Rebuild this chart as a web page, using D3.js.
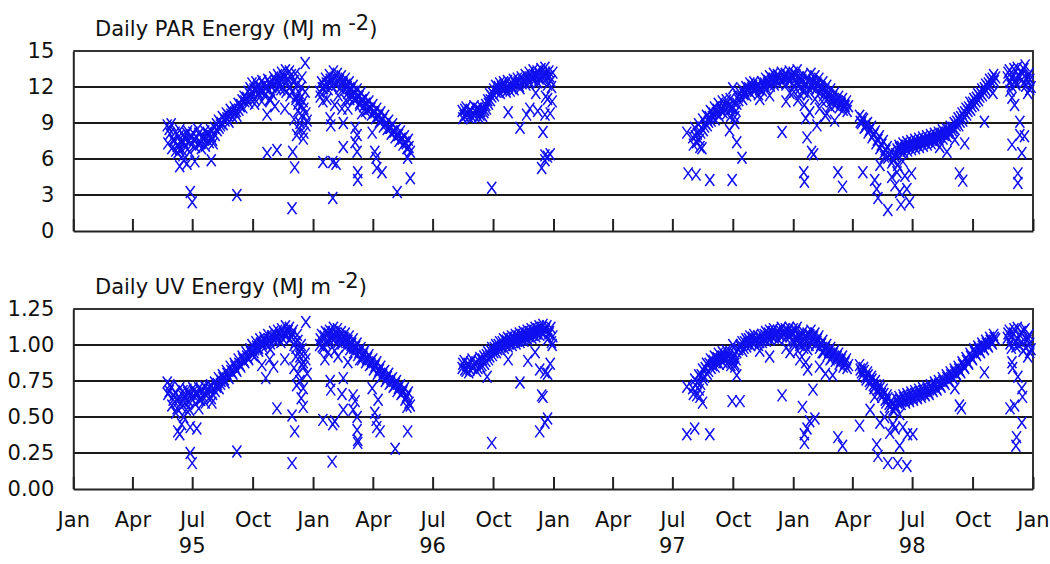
<!DOCTYPE html>
<html>
<head>
<meta charset="utf-8">
<script src="https://cdn.jsdelivr.net/npm/d3@7"></script>
<style>
  html, body { margin: 0; padding: 0; background: #fff; }
  svg { display: block; }
  text { font-family: "DejaVu Sans", "Noto Sans", sans-serif; fill: #111; }
</style>
</head>
<body>
<svg id="chart" width="1050" height="564"></svg>
<script>
// Record start: day numbers below count from 1 Jan 1995.
const recordStart = new Date(1995, 0, 1);
const recordEnd = new Date(1999, 0, 1);

// Quarterly tick dates and year labels
const quarterTicks = d3.timeMonth.range(recordStart, d3.timeDay.offset(recordEnd, 1), 3);
const yearLabels = [["95", new Date(1995, 6, 1)], ["96", new Date(1996, 6, 1)],
                    ["97", new Date(1997, 6, 1)], ["98", new Date(1998, 6, 1)]];
const parTicks = [0, 3, 6, 9, 12, 15];
const uvTicks = [0, 0.25, 0.5, 0.75, 1.0, 1.25];

// Sampling interval (days) of the continuous runs below
const runStep = 3;

// ---- Daily PAR energy (MJ m-2): continuous runs [start day, values...] ----
const parRun95 = [143, [8.8,8.5,8.9,7.6,8.2,7.1,7.9,7.4,8.0,7.7,8.1,7.5,7.9,8.2,7.6,7.8,8.1,7.3,7.9,8.3,
  7.7,8.0,8.4,7.6,8.6,8.9,9.2,8.8,9.5,9.3,9.8,9.6,10.1,9.9,10.3,10.0,10.6,10.4,10.9,11.2,
  11.0,11.6,11.9,12.3,11.8,12.4,12.1,11.7,12.5,12.2,11.9,12.6,12.3,12.0,12.8,12.5,13.0,12.7,13.2,12.9,
  13.4,12.6,13.3,13.0,12.4,13.1,12.2,11.5,12.0,10.8,11.6,9.2]];
const parRun95Alt = [144, [7.3,8.1,6.9,7.5,6.7,7.2,8.4,6.8,7.4,7.0,8.3,6.6,7.2,7.6,7.0,8.5,7.3,6.9,7.7,7.1,
  8.2,7.4,7.9,7.3,8.0,8.4,8.6,9.0,8.9,9.2,9.4,9.1,9.7,9.5,9.9,9.6,10.1,10.5,10.3,10.8,
  11.1,10.7,11.3,11.5,11.0,11.8,11.5,12.0,11.6,11.3,12.1,11.7,12.2,11.4,12.3,11.9,12.5,12.1,12.6,11.8,
  12.4,12.7,12.0,11.6,12.5,11.2,10.6,11.0,9.6,10.2,8.8]];
const parRun96a = [375, [11.6,12.4,11.9,12.7,12.2,13.0,12.5,13.3,12.8,13.1,12.6,12.9,12.3,12.7,12.0,12.4,11.8,12.1,11.5,11.8,
  11.2,11.5,10.9,11.1,10.6,10.8,10.2,10.5,9.9,10.2,9.6,9.9,9.3,9.6,9.0,9.2,8.6,8.9,8.3,8.5,
  8.0,8.3,7.7,7.9,7.3,7.6,6.6]];
const parRun96aAlt = [376, [11.2,11.9,12.1,12.3,11.8,12.6,12.1,12.7,12.2,12.5,11.9,12.4,11.7,12.2,11.5,11.9,11.3,11.6,11.0,11.2,
  10.7,10.9,10.4,10.6,10.1,10.2,9.7,9.9,9.4,9.6,9.1,9.2,8.7,8.9,8.5,8.6,8.1,8.3,7.8,8.0,
  7.5,7.7,7.2,7.4,6.9,7.0]];
const parRun96b = [592, [10.0,9.6,10.3,9.8,10.1,9.5,10.4,9.9,10.2,9.7,10.3,9.9,10.5,10.9,11.4,11.2,11.8,12.1,11.7,12.3,
  12.0,12.4,11.9,12.5,12.2,12.0,12.6,12.3,12.7,12.1,12.8,12.5,13.0,12.6,13.2,12.8,13.4,12.9,13.3,12.7,
  13.5,13.0,13.6,12.8,13.3,12.5,13.2]];
const parRun96bAlt = [593, [9.4,10.1,9.7,9.5,10.0,9.8,9.6,10.2,9.5,10.0,9.6,10.1,10.2,10.6,10.9,11.5,11.3,11.6,12.0,11.5,
  11.8,12.2,11.6,12.0,11.7,12.3,11.8,12.2,12.4,11.9,12.3,12.6,12.2,12.8,12.4,12.9,12.5,13.0,12.4,13.1,
  12.6,12.9,13.2,12.2,12.9,12.0]];
const parRun97 = [943, [7.8,8.6,7.4,8.9,8.2,9.3,8.7,9.6,9.1,10.0,9.5,10.3,9.8,10.6,10.1,10.8,10.3,10.9,10.4,11.0,
  10.2,10.7,10.0,11.2,11.5,11.8,11.4,12.0,11.7,12.3,11.9,12.4,12.0,12.2,11.8,12.4,12.1,12.7,12.3,12.9,
  12.5,13.1,12.6,13.0,12.7,13.2,12.8,13.1,12.7,13.3,12.9,13.2,12.6,13.4,12.8,12.4,13.0,12.2,12.8,11.9,
  13.1,12.5,12.9,12.3,12.7,12.0,12.4,11.8,12.1,11.5,11.8,11.2,11.5,10.9,11.2,10.7,11.0,10.5,10.8,10.4]];
const parRun97Alt = [944, [7.2,7.9,8.1,7.6,8.6,8.4,9.0,8.8,9.5,9.2,9.8,9.3,10.1,9.6,10.2,9.9,10.5,9.8,10.4,9.6,
  10.3,9.5,10.6,10.9,11.2,11.0,11.6,11.3,11.9,11.5,12.1,11.7,11.9,11.4,12.0,11.7,12.3,11.9,12.5,12.1,
  12.7,12.2,12.6,12.3,12.8,12.4,12.7,12.2,12.9,12.5,12.8,12.1,13.0,12.4,11.9,12.6,11.6,12.3,11.4,12.5,
  12.0,12.4,11.8,12.2,11.5,11.9,11.3,11.6,11.0,11.3,10.8,11.0,10.5,10.8,10.3,10.6,10.1,10.4,10.0]];
const parRun98a = [1197, [9.6,9.0,9.3,8.7,9.0,8.4,8.7,8.0,8.3,7.6,7.9,7.2,7.5,6.8,7.0,6.4,6.6,5.9,6.2,6.8,
  7.1,6.6,7.3,6.9,7.4,7.0,7.5,7.1,7.6,7.2,7.7,7.3,7.8,7.4,7.9,7.5,8.0,7.6,8.1,7.7,
  8.2,7.9,8.4,8.0,8.5,8.2,8.7,8.4,9.0,8.8,9.4,9.1,9.8,9.5,10.2,10.0,10.7,10.4,11.0,10.8,
  11.4,11.2,11.8,11.6,12.2,12.0,12.6,12.4,13.0,12.8]];
const parRun98aAlt = [1198, [9.1,9.4,8.6,8.9,8.2,8.5,7.8,8.1,7.3,7.6,6.9,7.2,6.5,6.7,6.1,6.3,5.7,6.0,6.4,6.7,
  6.9,7.0,6.6,7.1,6.7,7.2,6.8,7.3,6.9,7.4,7.0,7.5,7.1,7.6,7.2,7.7,7.3,7.8,7.4,7.9,
  7.6,8.1,7.7,8.2,7.9,8.4,8.1,8.6,8.5,9.1,8.8,9.5,9.2,9.9,9.7,10.3,10.1,10.7,10.5,11.1,
  10.9,11.5,11.3,11.9,11.7,12.3,12.1,12.7,12.5]];
const parRun98b = [1422, [12.8,13.4,12.1,13.0,12.5,13.6,12.9,13.3,12.3,13.8,12.6,13.1,12.0]];
const parRun98bAlt = [1423, [13.2,12.4,12.7,13.5,12.2,13.0,12.8,12.6,13.5,12.1,12.9,12.6]];
// Scattered low (cloudy) days: [day, value]
const parLowDays = [
  [162,5.4],[168,5.9],[173,5.6],[185,5.8],[210,5.9],[178,3.25],[181,2.4],[249,3.0],[295,6.5],[310,6.75],
  [295,9.7],[333,1.9],[334,6.6],[337,5.3],[353,14.0],[348,12.8],[350,7.7],[351,8.2],[342,10.0],[345,9.0],
  [339,11.0],[347,10.5],[354,9.8],[343,8.5],[330,11.3],[324,11.6],[287,10.8],[299,11.0],[307,10.4],[159,6.5],
  [167,6.3],[162,6.8],[270,11.0],[276,10.6],[282,11.4],[300,10.9],[316,11.8],[322,10.2],[336,9.3],[340,8.0],
  [380,5.75],[395,5.75],[400,5.6],[395,2.75],[391,9.4],[392,8.8],[411,9.0],[409,10.2],[411,7.0],[429,8.6],
  [432,8.0],[429,7.4],[432,6.6],[433,4.9],[433,4.25],[455,8.2],[459,6.6],[461,6.1],[462,5.25],[470,4.9],
  [493,3.25],[513,4.4],[509,6.1],[380,10.8],[386,11.0],[403,11.3],[415,10.9],[421,11.0],[439,9.8],[445,10.0],
  [398,10.5],[418,10.2],[427,11.0],[436,10.5],
  [637,3.6],[662,9.9],[680,8.6],[690,9.7],[695,10.2],[707,10.0],[715,8.25],[718,9.7],[726,9.8],[713,5.25],
  [718,6.3],[722,6.2],[726,6.4],[704,11.5],[719,11.2],[729,10.8],[722,11.0],[718,5.9],
  [934,8.2],[936,4.8],[948,4.7],[969,4.25],[1003,4.25],[1018,6.1],[1010,7.4],[1079,8.25],[1112,4.9],[1113,4.1],
  [1124,6.6],[1127,6.4],[1117,7.8],[1164,4.9],[1171,3.7],[1132,8.8],[1159,9.2],[999,8.4],[1007,9.0],[1004,11.9],
  [954,7.0],[957,6.9],[1121,9.9],[1136,10.2],[1145,9.6],[1106,11.4],[1129,11.0],[1091,11.5],[1060,11.3],[1045,11.0],
  [1147,9.8],[1113,10.5],[1085,10.8],[1097,11.6],[1103,10.9],[1115,9.4],[1140,10.8],[1152,10.4],
  [1202,4.9],[1220,4.25],[1225,2.75],[1223,3.5],[1240,1.75],[1246,4.5],[1254,4.9],[1258,3.25],[1260,2.2],[1266,4.6],
  [1273,2.4],[1276,4.8],[1269,3.5],[1251,3.8],[1330,6.6],[1349,4.8],[1354,4.2],[1357,7.3],[1387,9.1],[1400,11.5],
  [1228,5.5],[1235,6.2],[1255,5.5],[1263,5.8],[1342,7.6],[1319,7.0],
  [1429,11.1],[1433,10.5],[1441,9.1],[1429,7.2],[1441,8.0],[1448,7.9],[1444,6.5],[1438,4.8],[1438,4.0],[1453,11.5],
  [1426,11.7],[1456,11.8]
];

// ---- Daily UV energy (MJ m-2) ----
const uvRun95 = [143, [0.74,0.68,0.71,0.62,0.67,0.56,0.64,0.60,0.68,0.63,0.69,0.61,0.66,0.70,0.64,0.67,0.70,0.62,0.68,0.71,
  0.65,0.69,0.72,0.66,0.74,0.71,0.77,0.73,0.79,0.76,0.82,0.78,0.85,0.81,0.87,0.83,0.90,0.86,0.92,0.89,
  0.95,0.91,0.97,1.00,0.95,1.02,0.98,1.04,1.01,1.05,1.02,1.07,1.03,1.06,1.09,1.05,1.10,1.07,1.11,1.08,
  1.13,1.09,1.12,1.06,1.10,1.02,1.07,0.96,1.00,0.88,0.94,0.80]];
const uvRun95Alt = [144, [0.66,0.72,0.58,0.65,0.53,0.61,0.70,0.57,0.64,0.60,0.67,0.55,0.63,0.68,0.59,0.66,0.62,0.69,0.64,0.60,
  0.67,0.71,0.63,0.70,0.68,0.73,0.70,0.75,0.77,0.74,0.80,0.77,0.82,0.80,0.85,0.82,0.87,0.85,0.90,0.88,
  0.92,0.90,0.95,0.93,0.97,0.99,0.96,1.01,0.99,1.03,1.00,1.04,1.01,1.06,1.03,1.07,1.04,1.08,1.05,1.09,
  1.06,1.10,1.04,1.08,1.00,0.98,1.03,0.92,0.97,0.85,0.90]];
const uvRun96a = [375, [1.00,1.07,0.98,1.09,1.03,1.10,1.05,1.12,1.06,1.11,1.05,1.09,1.03,1.08,1.02,1.06,1.00,1.04,0.98,1.01,
  0.95,0.98,0.92,0.96,0.90,0.93,0.87,0.90,0.85,0.88,0.82,0.85,0.79,0.82,0.77,0.80,0.74,0.77,0.72,0.75,
  0.70,0.72,0.67,0.70,0.64,0.67,0.58]];
const uvRun96aAlt = [376, [1.04,0.99,1.06,1.01,1.08,1.03,1.09,1.04,1.08,1.02,1.06,1.01,1.05,0.99,1.03,0.97,1.01,0.95,0.99,0.93,
  0.96,0.90,0.94,0.88,0.91,0.86,0.89,0.83,0.86,0.80,0.83,0.78,0.81,0.75,0.78,0.73,0.76,0.71,0.73,0.68,
  0.71,0.66,0.68,0.62,0.65,0.60]];
const uvRun96b = [592, [0.84,0.89,0.82,0.87,0.83,0.90,0.85,0.88,0.84,0.91,0.86,0.92,0.89,0.95,0.92,0.98,0.95,1.00,0.97,1.02,
  0.99,1.04,1.00,1.05,1.01,1.06,1.02,1.07,1.03,1.08,1.04,1.09,1.05,1.10,1.06,1.11,1.07,1.12,1.08,1.13,
  1.09,1.14,1.10,1.13,1.08,1.12,1.06]];
const uvRun96bAlt = [593, [0.87,0.83,0.86,0.81,0.88,0.84,0.87,0.82,0.89,0.85,0.90,0.87,0.93,0.90,0.96,0.93,0.98,0.95,1.00,0.97,
  1.02,0.98,1.03,0.99,1.04,1.00,1.05,1.01,1.06,1.02,1.07,1.03,1.08,1.04,1.09,1.05,1.10,1.06,1.11,1.07,
  1.12,1.08,1.11,1.04,1.09,1.02]];
const uvRun97 = [943, [0.70,0.76,0.65,0.79,0.73,0.83,0.78,0.87,0.82,0.90,0.86,0.92,0.88,0.94,0.90,0.95,0.91,0.96,0.92,0.95,
  0.89,0.94,0.90,0.97,0.99,1.02,0.98,1.04,1.01,1.06,1.02,1.07,1.03,1.06,1.02,1.07,1.04,1.09,1.05,1.10,
  1.06,1.11,1.07,1.10,1.07,1.12,1.08,1.11,1.07,1.12,1.08,1.11,1.06,1.12,1.07,1.03,1.09,1.01,1.08,1.00,
  1.10,1.05,1.08,1.02,1.06,1.00,1.03,0.97,1.00,0.95,0.98,0.93,0.96,0.91,0.94,0.89,0.92,0.87,0.90,0.86]];
const uvRun97Alt = [944, [0.66,0.72,0.74,0.69,0.79,0.76,0.84,0.80,0.87,0.84,0.89,0.85,0.91,0.87,0.92,0.88,0.93,0.87,0.92,0.86,
  0.91,0.87,0.95,0.97,1.00,0.96,1.02,0.99,1.04,1.00,1.05,1.01,1.04,1.00,1.05,1.02,1.07,1.03,1.08,1.04,
  1.09,1.05,1.08,1.04,1.10,1.06,1.09,1.05,1.10,1.06,1.09,1.03,1.10,1.04,1.00,1.06,0.98,1.05,0.97,1.07,
  1.02,1.06,1.00,1.04,0.98,1.01,0.95,0.98,0.93,0.96,0.91,0.94,0.89,0.92,0.87,0.90,0.85,0.88,0.84]];
const uvRun98a = [1197, [0.86,0.81,0.84,0.78,0.81,0.75,0.78,0.72,0.75,0.69,0.72,0.66,0.69,0.62,0.65,0.59,0.61,0.55,0.58,0.62,
  0.64,0.59,0.65,0.61,0.66,0.62,0.67,0.63,0.68,0.64,0.69,0.65,0.70,0.66,0.71,0.67,0.72,0.69,0.74,0.70,
  0.75,0.72,0.77,0.74,0.79,0.76,0.81,0.78,0.83,0.80,0.85,0.82,0.88,0.85,0.91,0.88,0.94,0.91,0.97,0.94,
  0.99,0.96,1.01,0.98,1.03,1.00,1.05,1.02,1.07,1.04]];
const uvRun98aAlt = [1198, [0.83,0.79,0.82,0.76,0.79,0.73,0.76,0.70,0.72,0.67,0.70,0.64,0.66,0.60,0.63,0.57,0.59,0.54,0.57,0.60,
  0.62,0.61,0.63,0.60,0.64,0.61,0.65,0.62,0.66,0.63,0.67,0.64,0.68,0.65,0.69,0.66,0.70,0.68,0.72,0.69,
  0.73,0.71,0.75,0.73,0.77,0.75,0.79,0.77,0.81,0.79,0.83,0.81,0.86,0.84,0.89,0.87,0.92,0.90,0.95,0.93,
  0.97,0.95,0.99,0.97,1.01,0.99,1.03,1.01,1.05]];
const uvRun98b = [1422, [1.05,1.10,0.98,1.08,1.02,1.12,1.00,1.09,0.96,1.11,1.03,1.07,0.97]];
const uvRun98bAlt = [1423, [1.08,1.01,1.06,1.11,0.99,1.04,1.07,1.02,1.10,0.98,1.05,1.01]];
const uvLowDays = [
  [159,0.40],[162,0.38],[165,0.45],[178,0.43],[188,0.42],[178,0.25],[181,0.18],[211,0.60],[191,0.56],[249,0.26],
  [293,0.77],[310,0.56],[333,0.51],[337,0.40],[333,0.18],[350,0.57],[347,0.63],[350,0.70],[354,1.16],[348,0.86],
  [342,0.80],[339,0.92],[345,0.75],[287,0.86],[299,0.90],[305,0.85],[168,0.50],[172,0.55],
  [270,0.95],[276,0.92],[282,0.98],[300,0.97],[316,1.02],[322,0.90],[336,0.84],[340,0.72],
  [380,0.48],[395,0.45],[398,0.47],[394,0.19],[391,0.75],[392,0.69],[411,0.77],[409,0.66],[411,0.55],[426,0.65],
  [429,0.61],[426,0.55],[432,0.50],[432,0.41],[433,0.34],[433,0.32],[455,0.70],[459,0.53],[461,0.48],[462,0.43],
  [467,0.40],[464,0.62],[490,0.28],[509,0.40],[508,0.57],[383,0.90],[388,0.95],[403,0.92],[418,0.88],
  [398,0.96],[427,0.98],[436,0.90],
  [637,0.32],[630,0.78],[662,0.90],[680,0.74],[692,0.89],[710,0.83],[718,0.81],[722,0.80],[713,0.65],[715,0.64],
  [710,0.40],[718,0.46],[722,0.49],[726,0.87],[703,0.95],[729,1.00],
  [934,0.71],[934,0.38],[946,0.42],[969,0.38],[1003,0.61],[1015,0.61],[1010,0.79],[1079,0.65],[1110,0.57],[1113,0.38],
  [1113,0.32],[1117,0.42],[1121,0.47],[1129,0.49],[1126,0.69],[1164,0.36],[1171,0.30],[1156,0.79],[954,0.64],[958,0.60],
  [1060,0.92],[1091,0.95],[1106,0.90],[1118,0.83],[1136,0.85],[1145,0.80],[1045,0.96],[1007,0.85],[1004,1.00],
  [1085,0.98],[1097,1.01],[1103,0.96],[1115,0.88],[1140,0.95],[1152,0.90],
  [1197,0.44],[1223,0.31],[1225,0.23],[1240,0.18],[1255,0.18],[1269,0.16],[1228,0.46],[1243,0.39],[1251,0.42],[1258,0.30],
  [1270,0.38],[1278,0.38],[1220,0.64],[1352,0.56],[1349,0.58],[1387,0.81],[1235,0.50],[1248,0.45],[1263,0.43],[1213,0.55],
  [1342,0.70],[1258,0.52],
  [1426,0.56],[1433,0.58],[1438,0.78],[1444,0.70],[1445,0.64],[1436,0.36],[1435,0.30],[1444,0.46],[1429,0.88],[1430,0.84],
  [1453,0.92],[1456,0.95]
];

// Expand runs and scattered days into dated points
function toPoints(runs, lows) {
  const pts = [];
  runs.forEach(([startDay, vals]) => {
    vals.forEach((v, i) => pts.push({ date: d3.timeDay.offset(recordStart, startDay + i * runStep), value: v }));
  });
  lows.forEach(([day, v]) => pts.push({ date: d3.timeDay.offset(recordStart, day), value: v }));
  return pts;
}
const parPoints = toPoints([parRun95, parRun95Alt, parRun96a, parRun96aAlt, parRun96b, parRun96bAlt,
                            parRun97, parRun97Alt, parRun98a, parRun98aAlt, parRun98b, parRun98bAlt], parLowDays);
const uvPoints = toPoints([uvRun95, uvRun95Alt, uvRun96a, uvRun96aAlt, uvRun96b, uvRun96bAlt,
                           uvRun97, uvRun97Alt, uvRun98a, uvRun98aAlt, uvRun98b, uvRun98bAlt], uvLowDays);

const svg = d3.select("#chart");
const left = 73.3, right = 1033;
const x = d3.scaleTime().domain([recordStart, recordEnd]).range([left, right]);

const markColor = "#0f0ff0";
const crossPath = "M-4.5,-6L4.5,6M-4.5,6L4.5,-6";
const fontSize = 21;

function panel(opts) {
  const { top, bottom, domain, ticks, fmt, points, title, titleY, showLabels } = opts;
  const y = d3.scaleLinear().domain(domain).range([bottom, top]);
  const g = svg.append("g");

  // Horizontal grid lines
  g.selectAll("line.grid").data(ticks.slice(1, -1)).join("line")
    .attr("x1", left).attr("x2", right)
    .attr("y1", d => y(d)).attr("y2", d => y(d))
    .attr("stroke", "#1a1a1a").attr("stroke-width", 2);

  // Frame: top and right edges
  g.append("path")
    .attr("d", `M${left},${y(domain[1])}H${right}V${bottom}`)
    .attr("fill", "none").attr("stroke", "#333").attr("stroke-width", 2);

  // Left axis with value labels
  const yAxis = d3.axisLeft(y).tickValues(ticks).tickFormat(fmt).tickSize(0).tickPadding(19);
  const ya = g.append("g").attr("transform", `translate(${left},0)`).call(yAxis);
  ya.select(".domain").attr("stroke", "#222").attr("stroke-width", 2);
  ya.selectAll("text").attr("font-size", fontSize).attr("fill", "#111")
    .attr("font-family", '"DejaVu Sans", sans-serif');

  // Bottom axis: quarterly ticks pointing up into the plot
  const xAxis = d3.axisBottom(x).tickValues(quarterTicks).tickFormat(d3.timeFormat("%b"))
    .tickSizeInner(-12).tickSizeOuter(0).tickPadding(23);
  const xa = g.append("g").attr("transform", `translate(0,${bottom})`).call(xAxis);
  xa.select(".domain").attr("stroke", "#222").attr("stroke-width", 2);
  xa.selectAll(".tick line").attr("stroke", "#222").attr("stroke-width", 2);
  xa.selectAll("text").attr("font-size", fontSize).attr("fill", "#111")
    .attr("font-family", '"DejaVu Sans", sans-serif')
    .style("display", showLabels ? null : "none");

  // Panel title with superscript exponent
  const t = g.append("text").attr("x", 95).attr("y", titleY).attr("font-size", fontSize);
  t.append("tspan").text(title + " (MJ m ");
  t.append("tspan").attr("dy", -6).text("-2");
  t.append("tspan").attr("dy", 6).text(")");

  // Daily values drawn as crosses
  g.append("g").selectAll("path").data(points).join("path")
    .attr("d", crossPath)
    .attr("transform", d => `translate(${x(d.date)},${y(d.value)})`)
    .attr("fill", "none").attr("stroke", markColor).attr("stroke-width", 1.5);
  return g;
}

panel({ top: 51, bottom: 231, domain: [0, 15], ticks: parTicks, fmt: d3.format("d"),
        points: parPoints, title: "Daily PAR Energy", titleY: 36, showLabels: false });
panel({ top: 309, bottom: 489, domain: [0, 1.25], ticks: uvTicks, fmt: d3.format(".2f"),
        points: uvPoints, title: "Daily UV Energy", titleY: 294, showLabels: true });

// Year labels under the month names
svg.append("g").selectAll("text").data(yearLabels).join("text")
  .attr("x", d => x(d[1])).attr("y", 553)
  .attr("text-anchor", "middle").attr("font-size", fontSize)
  .text(d => d[0]);
</script>
</body>
</html>
